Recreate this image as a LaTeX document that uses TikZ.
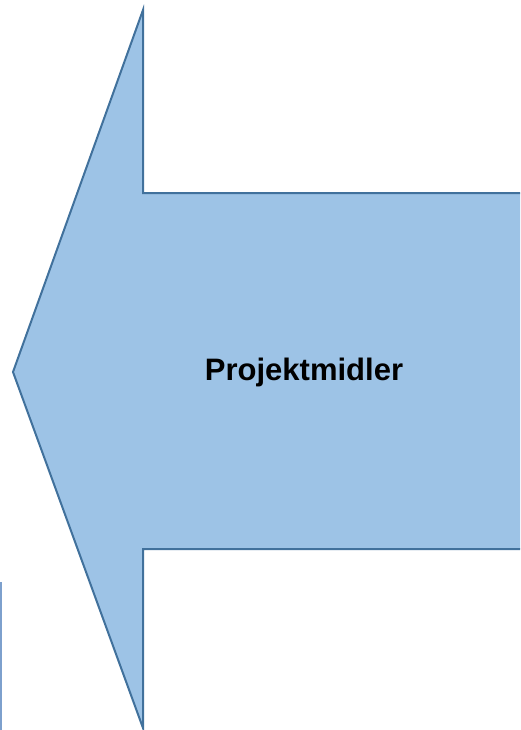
\documentclass[tikz,border=0pt]{standalone}
\usepackage{fontspec}
\setmainfont{Liberation Sans}
\definecolor{arrowfill}{RGB}{157,195,230}
\definecolor{arrowline}{RGB}{65,113,156}
\definecolor{sideline}{RGB}{125,160,205}
\tikzset{
  bigarrow/.style={fill=arrowfill, draw=arrowline, line width=2pt, line join=miter},
  label/.style={font=\bfseries\fontsize{31}{36}\selectfont, text=black}
}
\begin{document}
\begin{tikzpicture}[x=1pt,y=-1pt]
\useasboundingbox (0,0) rectangle (520,730);
\clip (0,0) rectangle (520,730);
\draw[bigarrow] (13,372) -- (143,10) -- (143,193) -- (530,193) -- (530,549) -- (143,549) -- (143,728) -- cycle;
\node[label] (txt) at (304,372) {Projektmidler};
\coordinate (s1) at (0.8,582);
\coordinate (s2) at (0.8,731);
\draw[sideline, line width=1.6pt] (s1) -- (s2);
\end{tikzpicture}
\end{document}
